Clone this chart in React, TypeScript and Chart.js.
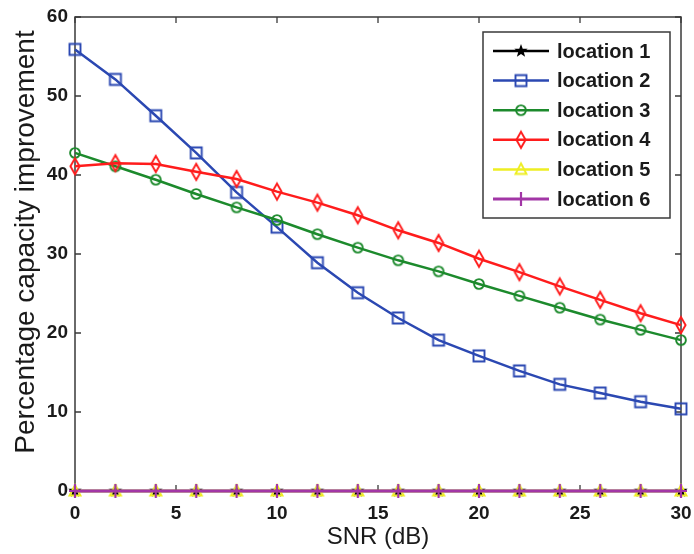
import React, { useEffect, useRef } from 'react';
import { Chart, registerables } from 'chart.js';

Chart.register(...registerables);

const snrDb = [0, 2, 4, 6, 8, 10, 12, 14, 16, 18, 20, 22, 24, 26, 28, 30];
const location1 = [0, 0, 0, 0, 0, 0, 0, 0, 0, 0, 0, 0, 0, 0, 0, 0];
const location2 = [55.9, 52.1, 47.5, 42.8, 37.8, 33.4, 28.9, 25.1, 21.9, 19.1, 17.1, 15.2, 13.5, 12.4, 11.3, 10.4];
const location3 = [42.8, 41.1, 39.4, 37.6, 35.9, 34.3, 32.5, 30.8, 29.2, 27.8, 26.2, 24.7, 23.2, 21.7, 20.4, 19.1];
const location4 = [41.1, 41.5, 41.4, 40.4, 39.5, 37.9, 36.5, 34.9, 33.0, 31.4, 29.4, 27.7, 25.9, 24.2, 22.5, 21.0];
const location5 = [0, 0, 0, 0, 0, 0, 0, 0, 0, 0, 0, 0, 0, 0, 0, 0];
const location6 = [0, 0, 0, 0, 0, 0, 0, 0, 0, 0, 0, 0, 0, 0, 0, 0];

const seriesLabels = ['location 1', 'location 2', 'location 3', 'location 4', 'location 5', 'location 6'];
const seriesColors = ['#000000', '#2b48b2', '#1c8a2c', '#ff1c1c', '#eeee22', '#a236a6'];
const seriesMarkers = ['pentagram', 'square', 'circle', 'diamond', 'triangle', 'plus'];
const seriesValues = [location1, location2, location3, location4, location5, location6];

const xTitle = 'SNR (dB)';
const yTitle = 'Percentage capacity improvement';

const FONT = '"Liberation Sans", Arial, Helvetica, sans-serif';

function makeMarker(kind: string, color: string): HTMLCanvasElement {
  const c = document.createElement('canvas');
  c.width = 22;
  c.height = 22;
  const g = c.getContext('2d') as CanvasRenderingContext2D;
  g.translate(11, 11);
  g.strokeStyle = color;
  g.fillStyle = color;
  g.lineWidth = 1.9;
  g.beginPath();
  if (kind === 'square') {
    g.rect(-5.5, -5.5, 11, 11);
    g.stroke();
  } else if (kind === 'circle') {
    g.arc(0, 0, 4.9, 0, Math.PI * 2);
    g.stroke();
  } else if (kind === 'diamond') {
    g.moveTo(0, -8);
    g.lineTo(4.6, 0);
    g.lineTo(0, 8);
    g.lineTo(-4.6, 0);
    g.closePath();
    g.stroke();
  } else if (kind === 'triangle') {
    g.moveTo(0, -6);
    g.lineTo(5.5, 4.5);
    g.lineTo(-5.5, 4.5);
    g.closePath();
    g.stroke();
  } else if (kind === 'plus') {
    g.lineWidth = 2.2;
    g.moveTo(0, -7);
    g.lineTo(0, 7);
    g.moveTo(-6, 0);
    g.lineTo(6, 0);
    g.stroke();
  } else if (kind === 'pentagram') {
    const R = 7;
    const r = 2.9;
    for (let i = 0; i < 10; i++) {
      const ang = -Math.PI / 2 + (i * Math.PI) / 5;
      const rad = i % 2 === 0 ? R : r;
      const px = Math.cos(ang) * rad;
      const py = Math.sin(ang) * rad;
      if (i === 0) g.moveTo(px, py);
      else g.lineTo(px, py);
    }
    g.closePath();
    g.fill();
  }
  return c;
}

const framePlugin = {
  id: 'matlabFrame',
  beforeDatasetsDraw(chart: any) {
    const { ctx, chartArea: a, scales } = chart;
    ctx.save();
    ctx.strokeStyle = '#3a3a3a';
    ctx.lineWidth = 1.5;
    ctx.strokeRect(a.left, a.top, a.right - a.left, a.bottom - a.top);
    ctx.lineWidth = 1.3;
    const tl = 6;
    ctx.beginPath();
    for (const t of scales.x.ticks) {
      const x = scales.x.getPixelForValue(t.value);
      ctx.moveTo(x, a.bottom);
      ctx.lineTo(x, a.bottom - tl);
      ctx.moveTo(x, a.top);
      ctx.lineTo(x, a.top + tl);
    }
    for (const t of scales.y.ticks) {
      const y = scales.y.getPixelForValue(t.value);
      ctx.moveTo(a.left, y);
      ctx.lineTo(a.left + tl, y);
      ctx.moveTo(a.right, y);
      ctx.lineTo(a.right - tl, y);
    }
    ctx.stroke();
    ctx.restore();
  },
};

const yTitlePlugin = {
  id: 'yTitle',
  afterDraw(chart: any) {
    const { ctx } = chart;
    ctx.save();
    ctx.translate(26, 242);
    ctx.rotate(-Math.PI / 2);
    ctx.fillStyle = '#1a1a1a';
    ctx.font = '28px ' + FONT;
    ctx.textAlign = 'center';
    ctx.textBaseline = 'middle';
    ctx.fillText(yTitle, 0, 0);
    ctx.restore();
  },
};

const legendPlugin = {
  id: 'matlabLegend',
  afterDraw(chart: any) {
    const { ctx } = chart;
    const bx = 483;
    const by = 32;
    const bw = 187;
    const bh = 186;
    ctx.save();
    ctx.fillStyle = '#ffffff';
    ctx.fillRect(bx, by, bw, bh);
    ctx.strokeStyle = '#3a3a3a';
    ctx.lineWidth = 1.5;
    ctx.strokeRect(bx, by, bw, bh);
    const datasets = chart.data.datasets;
    for (let i = 0; i < datasets.length; i++) {
      const ds = datasets[i];
      const y = by + 19 + i * 29.6;
      ctx.strokeStyle = ds.borderColor;
      ctx.lineWidth = ds.borderWidth;
      ctx.beginPath();
      ctx.moveTo(bx + 10, y);
      ctx.lineTo(bx + 66, y);
      ctx.stroke();
      const m = ds.pointStyle as HTMLCanvasElement;
      ctx.drawImage(m, bx + 38 - m.width / 2, y - m.height / 2);
      ctx.fillStyle = '#1a1a1a';
      ctx.font = 'bold 20px ' + FONT;
      ctx.textBaseline = 'middle';
      ctx.textAlign = 'left';
      ctx.fillText(ds.label, bx + 74, y + 1);
    }
    ctx.restore();
  },
};

export default function App() {
  const ref = useRef<HTMLCanvasElement | null>(null);

  useEffect(() => {
    if (!ref.current) return;
    const datasets = seriesLabels.map((label, i) => {
      const marker = makeMarker(seriesMarkers[i], seriesColors[i]);
      return {
        label,
        data: snrDb.map((x, j) => ({ x, y: seriesValues[i][j] })),
        borderColor: seriesColors[i],
        backgroundColor: seriesColors[i],
        borderWidth: i === 5 ? 3 : 2.5,
        pointStyle: marker,
        pointRadius: 7,
        pointHoverRadius: 7,
        tension: 0,
        clip: false,
        order: seriesLabels.length - i,
      };
    });

    const chart = new Chart(ref.current, {
      type: 'line',
      data: { datasets },
      options: {
        animation: false,
        responsive: false,
        layout: { padding: { top: 17, right: 13, left: 0, bottom: 0 } },
        plugins: {
          legend: { display: false },
          tooltip: { enabled: false },
        },
        scales: {
          x: {
            type: 'linear',
            min: 0,
            max: 30,
            ticks: {
              stepSize: 5,
              padding: 11,
              color: '#1a1a1a',
              font: { family: FONT, size: 19, weight: 'bold' },
              maxRotation: 0,
            },
            grid: { display: false, drawTicks: false },
            border: { display: false },
            title: {
              display: true,
              text: xTitle,
              color: '#1a1a1a',
              font: { family: FONT, size: 24 },
              padding: { top: 0, bottom: 2 },
            },
            afterFit: (scale: any) => {
              scale.height = 63;
              scale.paddingLeft = 0;
              scale.paddingRight = 0;
            },
          },
          y: {
            type: 'linear',
            min: 0,
            max: 60,
            ticks: {
              stepSize: 10,
              padding: 7,
              color: '#1a1a1a',
              font: { family: FONT, size: 19, weight: 'bold' },
            },
            grid: { display: false, drawTicks: false },
            border: { display: false },
            title: { display: false, text: yTitle },
            afterFit: (scale: any) => {
              scale.width = 75;
              scale.paddingTop = 0;
              scale.paddingBottom = 0;
            },
          },
        },
      },
      plugins: [framePlugin, yTitlePlugin, legendPlugin],
    });
    return () => chart.destroy();
  }, []);

  return (
    <div style={{ position: 'fixed', left: 0, top: 0, width: 694, height: 554, background: '#fff' }}>
      <canvas ref={ref} width={694} height={554} style={{ display: 'block' }} />
    </div>
  );
}
